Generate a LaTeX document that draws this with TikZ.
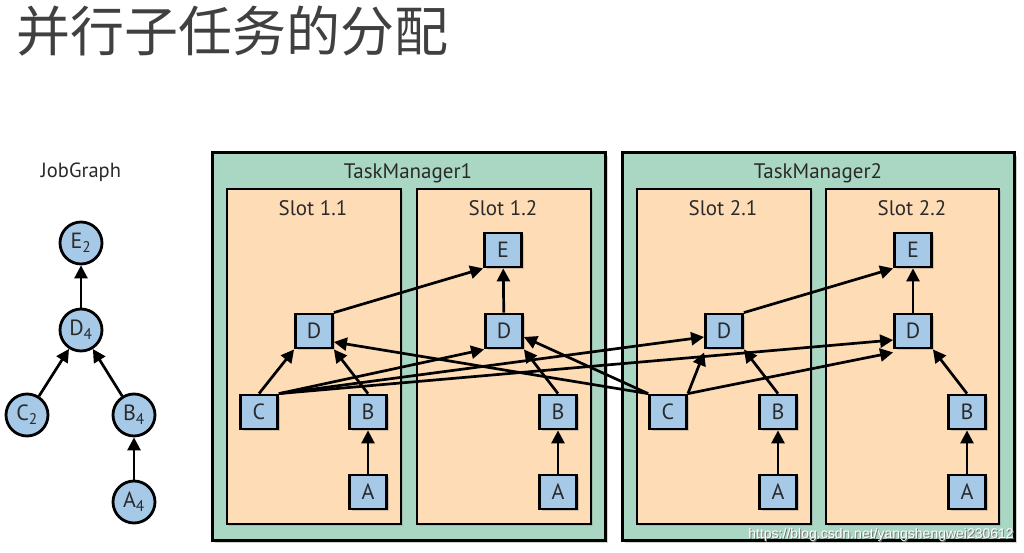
\documentclass[tikz,border=0pt]{standalone}
\usepackage{fontspec}
\setmainfont{PT Sans}
\newfontfamily\cjk{Noto Sans CJK SC}
\newfontfamily\wmfont{Liberation Sans}
\usetikzlibrary{arrows.meta,shadows}
\definecolor{tmfill}{HTML}{A9D7C3}
\definecolor{slotfill}{HTML}{FDDCB6}
\definecolor{taskfill}{HTML}{A6C9E8}
\definecolor{titlegray}{HTML}{404040}
\definecolor{labgray}{HTML}{2A2A2A}
\begin{document}
\begin{tikzpicture}[x=1pt,y=-1pt,
  tmbox/.style={draw=black, line width=3pt, fill=tmfill, inner sep=0pt,
    drop shadow={shadow xshift=3pt, shadow yshift=-3pt, opacity=0.35}},
  slotbox/.style={draw=black, line width=2.8pt, fill=slotfill, inner sep=0pt,
    drop shadow={shadow xshift=2pt, shadow yshift=-2pt, opacity=0.3}},
  task/.style={draw=black, line width=2.8pt, fill=taskfill, minimum width=37pt,
    minimum height=34pt, inner sep=0pt, font=\fontsize{22}{22}\selectfont, text=labgray,
    drop shadow={shadow xshift=2pt, shadow yshift=-2pt, opacity=0.35}},
  job/.style={draw=black, circle, line width=2.8pt, fill=taskfill, minimum size=42pt,
    inner sep=0pt, font=\fontsize{22}{22}\selectfont, text=labgray},
  hdr/.style={font=\fontsize{21}{21}\selectfont, text=labgray, inner sep=0pt},
  arr/.style={line width=2.7pt, -{Triangle[length=13pt,width=13pt]}},
]
\useasboundingbox (0,0) rectangle (1024,553);
\fill[white] (0,0) rectangle (1024,553);

% title
\node[anchor=west, inner sep=0pt, font=\cjk\fontsize{54}{54}\selectfont, text=titlegray] (title) at (16,31) {并行子任务的分配};

% JobGraph
\node[hdr, font=\fontsize{20.5}{20.5}\selectfont] (jglabel) at (81,172) {JobGraph};
\node[job] (jE) at (81,243) {E\textsubscript{2}};
\node[job] (jD) at (81,330) {D\textsubscript{4}};
\node[job] (jC) at (27,415) {C\textsubscript{2}};
\node[job] (jB) at (134,415) {B\textsubscript{4}};
\node[job] (jA) at (134,502) {A\textsubscript{4}};
\draw[arr] (jD) -- (jE);
\draw[arr] (jC) -- (jD);
\draw[arr] (jB) -- (jD);
\draw[arr] (jA) -- (jB);

% TaskManagers
\node[tmbox, minimum width=393pt, minimum height=387pt] (tm1) at (408.5,346.5) {};
\node[tmbox, minimum width=392pt, minimum height=387pt] (tm2) at (818,346.5) {};
\node[hdr] (tm1l) at (408,173) {TaskManager1};
\node[hdr] (tm2l) at (818,173) {TaskManager2};

% Slots
\node[slotbox, minimum width=174pt, minimum height=335pt] (s11) at (314,356.5) {};
\node[slotbox, minimum width=174pt, minimum height=335pt] (s12) at (504,356.5) {};
\node[slotbox, minimum width=174pt, minimum height=335pt] (s21) at (724,356.5) {};
\node[slotbox, minimum width=173pt, minimum height=335pt] (s22) at (912.5,356.5) {};
\node[hdr] (s11l) at (313,208) {Slot 1.1};
\node[hdr] (s12l) at (503,208) {Slot 1.2};
\node[hdr] (s21l) at (723,208) {Slot 2.1};
\node[hdr] (s22l) at (912,208) {Slot 2.2};

% tasks slot 1.1
\node[task] (D11) at (314,331) {D};
\node[task] (C11) at (259,412) {C};
\node[task] (B11) at (368,412) {B};
\node[task] (A11) at (368,492) {A};
% slot 1.2
\node[task] (E12) at (503,250) {E};
\node[task] (D12) at (504,331) {D};
\node[task] (B12) at (558,412) {B};
\node[task] (A12) at (558,492) {A};
% slot 2.1
\node[task] (D21) at (724,331) {D};
\node[task] (C21) at (668,412) {C};
\node[task] (B21) at (778,412) {B};
\node[task] (A21) at (778,492) {A};
% slot 2.2
\node[task] (E22) at (913,250) {E};
\node[task] (D22) at (913,331) {D};
\node[task] (B22) at (967,412) {B};
\node[task] (A22) at (967,492) {A};

% connectors
\draw[arr] (A11) -- (B11);
\draw[arr] (A12) -- (B12);
\draw[arr] (A21) -- (B21);
\draw[arr] (A22) -- (B22);
\draw[arr] (B11.north) -- (D11.south east);
\draw[arr] (B12.north) -- (D12.south east);
\draw[arr] (B21.north) -- (D21.south east);
\draw[arr] (B22.north) -- (D22.south east);
\draw[arr] (C11.north) -- (D11.south west);
\draw[arr] (C11.north east) -- (D12.south west);
\draw[arr] (C11.north east) -- ([yshift=-6pt]D21.west);
\draw[arr] (C11.north east) -- ([yshift=-9pt]D22.west);
\draw[arr] (C21.north west) -- ([yshift=-11pt]D11.east);
\draw[arr] (C21.north west) -- ([yshift=-6pt]D12.east);
\draw[arr] (C21.north east) -- ([yshift=-3pt]D21.south west);
\draw[arr] (C21.north east) -- ([yshift=-3pt]D22.south west);
\draw[arr] (D12) -- (E12);
\draw[arr] (D22) -- (E22);
\draw[arr] (D11.north east) -- (E12.south west);
\draw[arr] (D21.north east) -- (E22.south west);

% watermark
\node[anchor=east, inner sep=0pt, font=\wmfont\fontsize{14}{14}\selectfont, text=black!55] (wms) at (1015,536) {https://blog.csdn.net/yangshengwei230612};
\node[anchor=east, inner sep=0pt, font=\wmfont\fontsize{14}{14}\selectfont, text=white] (wm) at (1014,535) {https://blog.csdn.net/yangshengwei230612};
\end{tikzpicture}
\end{document}
